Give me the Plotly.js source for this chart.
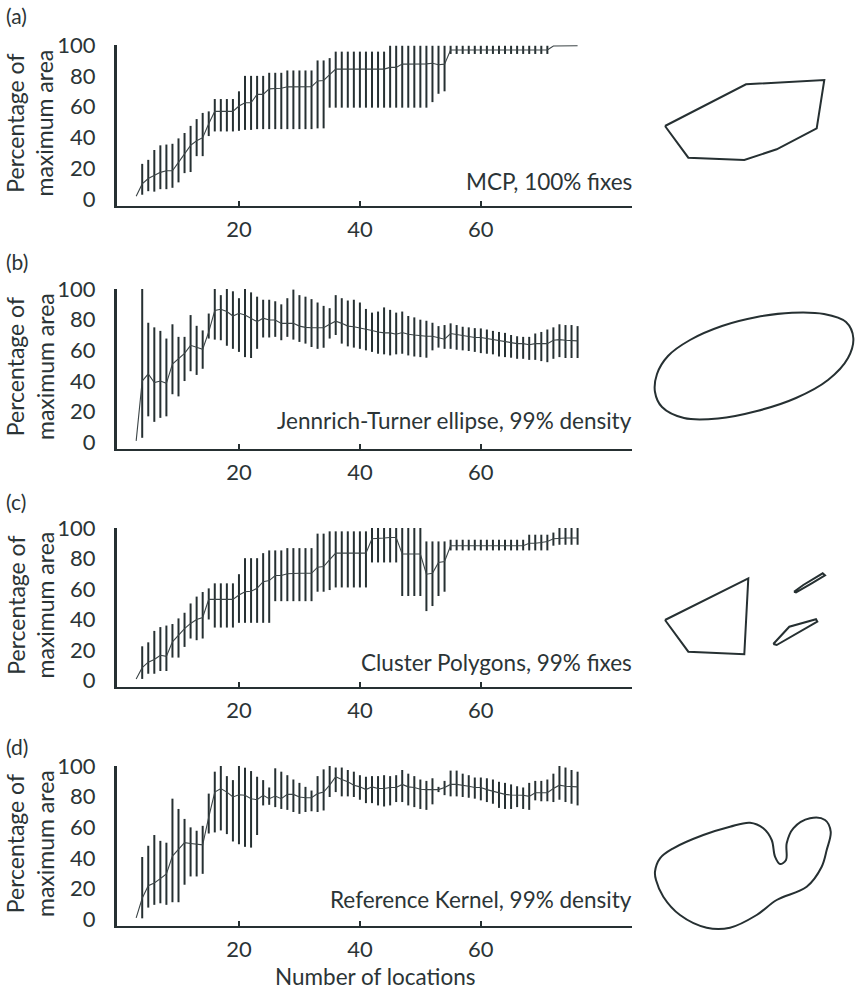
<!DOCTYPE html>
<html>
<head>
<meta charset="utf-8">
<script src="https://cdn.plot.ly/plotly-3.0.1.min.js"></script>
<style>html,body{margin:0;padding:0;background:#fff}#chart{width:855px;height:990px}</style>
</head>
<body>
<div id="chart"></div>
<script>
// Number of locations
var locations = [3,4,5,6,7,8,9,10,11,12,13,14,15,16,17,18,19,20,21,22,23,24,25,26,27,28,29,30,31,32,33,34,35,36,37,38,39,40,
  41,42,43,44,45,46,47,48,49,50,51,52,53,54,55,56,57,58,59,60,61,62,63,64,65,66,67,68,69,70,71,72,73,74,75,76];

// (a) MCP, 100% fixes
var aMean = [2,10,13.5,15.6,17.5,18.5,18.5,24,29.5,35,
  38,40,49,57,57,57,57,60.5,62.6,62.6,
  68,68,71.6,71.8,72,72.9,72.9,72.9,72.9,73,
  76.7,77,80.8,84.4,84.4,84.4,84.4,84.4,84.4,84.4,
  84.4,84.4,85.5,85.5,87.6,87.6,87.6,87.6,87.8,88.2,
  87.2,87.6,96.8,96.8,96.8,96.8,96.8,96.8,96.8,96.8,
  96.8,96.8,96.8,96.8,96.8,96.8,96.8,96.8,96.8,99.4,
  99.5,99.5,99.5,99.5];
var aMax = [null,23,25.6,32,35,35.5,36,39.5,43,47.6,
  52,56,57,65,65,65,65,70,80,80,
  80,80,82,82,82,83.5,83.5,83.5,83.5,83.5,
  90,90,91.5,95.7,95.7,95.7,95.7,95.7,95.7,95.7,
  95.7,95.7,99.5,99.5,99.5,99.5,99.5,99.5,99.5,99.5,
  99.5,99.5,99.5,99.5,99.5,99.5,99.5,99.5,99.5,99.5,
  99.5,99.5,99.5,99.5,99.5,99.5,99.5,99.5,99.5,null,
  null,null,null,null];
var aMin = [null,3,5.3,5,6.6,6.6,7.5,11,17,17.7,
  28,28,41,44,44,44,44,44.4,45,45,
  45.5,45.5,45.5,45.5,45.5,45.5,45.5,45.5,45.5,45.5,
  46,46,59.4,59.4,59.4,59.4,59.4,59.4,59.4,59.4,
  59.4,59.4,59.4,59.4,59.4,59.4,59.4,59.4,59.4,63,
  68.4,70,94.2,94.2,94.2,94.2,94.2,94.2,94.2,94.2,
  94.2,94.2,94.2,94.2,94.2,94.2,94.2,94.2,94.2,null,
  null,null,null,null];

// (b) Jennrich-Turner ellipse, 99% density
var bMean = [1,40,44.6,39,40,38.5,51,54.5,58,63.3,
  61.8,60.7,72,86,86.8,85.3,82.4,84.2,83,81,
  78.7,81,79.8,79.8,77.6,77.6,77.6,75.8,75,74.7,
  74.7,74.7,77,79,77.6,75.8,75.4,74.7,73.8,73,
  72,71.4,71.4,70.5,71.6,70.5,70,69.5,69.2,69.2,
  68,67.3,71,70.3,70,69.2,68.4,68.4,67.7,67,
  66.4,65.5,64.8,64.4,64.4,63.7,64.4,64.4,64.4,66.6,
  67,66.6,66.2,66.2];
var bMax = [null,100,78,75,72.7,67.7,77,68.8,68.8,83,
  76,73,84,100,96,100,98.5,94,100,97.8,
  95,93,93,92,90,94,99.6,96,95,93.4,
  91.2,89,87.5,96,94,92.5,93,91.2,87,84.6,
  85.3,88,86.4,84.6,85.3,82.4,81.5,80,79.3,78,
  75.8,76.5,77.6,76.5,75.4,75,74.5,74.3,73.6,72.7,
  72,71.4,70,69.2,68.8,68.8,71,72,73.6,75,
  77,76.5,76.5,75.8];
var bMin = [null,3,17,13.4,16,17,31.4,30,40,46.4,
  44,48,67.7,67,66.6,63,61,59,55.6,55,
  61,68.4,68.4,68.8,66.6,68.8,67,65.5,64.4,62.2,
  61,61.7,67.7,70,64.4,62.6,61.8,61,60,59,
  57.8,57.4,56.7,57.4,57.8,56.7,56,55.6,55.2,60,
  61.8,61,61,60.4,60,59.6,59,58.2,57.8,57.4,
  56,55.6,55.2,54.5,54.5,53.8,53.8,53,52.3,54.5,
  55.6,55,55,55];

// (c) Cluster Polygons, 99% fixes
var cMean = [1,8.4,12,13.8,16.5,15.8,25.3,29.7,34,37.4,
  40,41.3,53.2,53.2,53.2,53.2,53.2,56,58.2,58.5,
  60.4,64.8,65.5,68.8,68.8,70,70.3,70.3,70.3,70.3,
  74.3,74.7,79.3,83.5,83.5,83.5,83.5,83.5,83.5,93,
  93,93.4,93.8,93.8,82.9,82.9,82.9,82.9,69.7,70.3,
  77.4,78,88.4,88.4,88.4,88.4,88.4,88.4,88.4,88.4,
  88.4,88.4,88.4,88.4,88.4,90,90,90.5,91.2,93,
  93.4,93.4,93.4,93.4];
var cMax = [null,22.4,25,32.5,35,36,37,40.7,44.4,50.5,
  55,58,60.4,63.7,63.7,63.7,63.7,69.7,80.2,80.2,
  80.2,83.5,85.3,85.3,85.3,86.8,86.8,86.8,86.8,86.8,
  96.3,96.3,97.8,97.8,97.8,97.8,97.8,97.8,97.8,100,
  100,100,100,100,100,100,100,100,91.2,91.2,
  91.2,91.2,92.3,92.3,92.3,92.3,92.3,92.3,92.3,92.3,
  92.3,92.3,92.3,92.3,92.3,95.6,95.6,95.6,95.6,97,
  100,100,100,100];
var cMin = [null,1,4.4,4.4,6.2,6.2,15,15,22,27.5,
  26.4,27.5,40,34.7,34.7,34.7,34.7,37.8,37.8,37.8,
  37.8,37.8,37.8,52,52,52,52,52,52,52,
  58.2,58.2,59.3,61,61,61,61,61,61,77.4,
  77.4,77.4,77.4,77.4,55.4,55.4,55.4,55.4,45.5,48.8,
  55.4,58.2,85.3,85.3,85.3,85.3,85.3,85.3,85.3,85.3,
  85.3,85.3,85.3,85.3,85.3,85.3,85.3,85.3,85.3,88.4,
  89,89,89,89];

// (d) Reference Kernel, 99% density
var dMean = [1,13.8,22,23.7,26.6,29.7,41.3,45.7,50,49.5,
  49,48.6,66.6,83,85.3,83,79.8,81.3,80.9,78.7,
  78,80.9,78.7,80.4,78.7,81.5,81.5,79.8,79.3,79.3,
  82,83,87.5,93,91.2,89.7,87.5,86.4,84.6,86.4,
  85.3,85.3,86,86,88,86.4,86,84.8,84.6,84.6,
  84.6,86,88,88,87.5,86.8,86,86,84.6,83.7,
  82.4,81.5,81.1,80.9,80.9,80.2,82.6,82.6,82.6,85.3,
  87.5,86.8,86.4,86.4];
var dMax = [null,40.7,48,55,51.2,50,78.7,72,65.5,60,
  57.8,61,82,96.3,100,93.4,90.8,100,98.9,96.7,
  93,90.8,86,98.5,96.3,94,91.2,89,86.4,84,
  93.4,97.8,100,99,99,97.4,96.3,94,93,93.4,
  93.4,94,93.4,94,97.4,95,93.4,91.2,90.3,92,
  86.4,90.3,97,97,95,94,92.5,92.5,92,91.2,
  89.7,89,88,86.8,86,89,90.3,90.3,91.2,95,
  100,99,97.4,96.3];
var dMin = [null,0.7,7.7,9.5,10.5,9.5,11.2,11.2,22.6,28,
  28,29.7,56,56.7,58,55.6,50.8,49,47.3,46.8,
  55,74.3,74.7,73.2,72,71.4,70,68.8,70,70.5,
  70,71,79.8,83,80.2,80.2,79.8,78,75.8,75.8,
  74.3,73.6,74.3,76.5,76.5,74.3,73.2,72,71.4,75,
  83,81,80.2,80.2,79.8,79.3,78.7,77.6,76.5,75.4,
  72.7,72,72,73.2,72,71.4,77.6,77,77,76.5,
  78,76.5,75.4,74.3];

var panelLetters = ['(a)','(b)','(c)','(d)'];
var panelNames = ['MCP, 100% fixes','Jennrich-Turner ellipse, 99% density','Cluster Polygons, 99% fixes','Reference Kernel, 99% density'];
var yTickVals = [0,20,40,60,80,100];
var xTickVals = [20,40,60];

// Outline sketches on the right (page pixel coordinates)
var mcpX = [665,746,824.3,816.7,776.7,744.3,688.3,665];
var mcpY = [126,84.3,80,128.3,149.3,160,157.7,126];
var ellX = [655,657,668,690,722,757,792,824,846,853.3,848,828,796,757,718,684,662,655];
var ellY = [392,374,356,340,326,317,312.7,314,322,338,358,380,398,411,418.5,418,407,392];
var clusterX = [665,748.3,744.3,688.3,665,null,794,803.3,822.7,825,811.7,796,794,null,773.3,789.3,816,817.3,776.7,773.3];
var clusterY = [620,578.3,654.3,651.7,620,null,591.7,585,573.3,575.3,583.3,592.3,591.7,null,644,626.7,619.3,621.7,645,644];
var kernX = [655,660,673.3,703.3,730,750,763.3,771.7,775,780,786,786.7,793.3,810,825,830.7,826.7,821.7,806.7,776.7,756.7,730,706.7,680,663.3,656,655];
var kernY = [871.7,858.3,848.3,835,826.7,822.7,828.3,840,856.7,864,860,843.3,828.3,818.3,820,831.7,850,866.7,886.7,900,915,927.7,927.7,915,896.7,880,871.7];

var W = 855, H = 990;
var FONT = 'Lato, "Open Sans", sans-serif';
var TXT = '#2b3436';
var INK = '#263032';
var tops = [45, 289, 528, 766];
var bottoms = [206, 449, 687, 926];
var labelY = [16, 262, 501, 746];
var nameY = [182, 421, 662, 899];

var series = [[aMean,aMax,aMin],[bMean,bMax,bMin],[cMean,cMax,cMin],[dMean,dMax,dMin]];
var data = [];
var layout = {
  width: W, height: H, margin: {l:0,r:0,t:0,b:0},
  paper_bgcolor: '#fff', plot_bgcolor: 'rgba(0,0,0,0)',
  showlegend: false, font: {family: FONT, color: TXT, size: 20},
  annotations: []
};

series.forEach(function(s, i){
  var mean = s[0], mx = s[1], mn = s[2];
  var up = mean.map(function(v,k){ return mx[k]===null ? 0 : mx[k]-v; });
  var dn = mean.map(function(v,k){ return mn[k]===null ? 0 : v-mn[k]; });
  var sfx = i===0 ? '' : String(i+1);
  data.push({
    type:'scatter', mode:'lines', x: locations, y: mean,
    xaxis:'x'+sfx, yaxis:'y'+sfx,
    line:{color:'#3b4446', width:1.1},
    error_y:{type:'data', symmetric:false, array:up, arrayminus:dn, color:INK, thickness:2, width:0},
    hoverinfo:'skip'
  });
  layout['xaxis'+sfx] = {
    domain:[117/W, 632/W], range:[-0.17, 85], anchor:'y'+sfx,
    showgrid:false, zeroline:false, showline:true, linecolor:INK, linewidth:2,
    ticks:'inside', ticklen:5, tickwidth:2, tickcolor:INK, tickvals:xTickVals,
    ticklabelstandoff: 3,
    tickfont:{family:FONT, size:22, color:TXT}, fixedrange:true
  };
  layout['yaxis'+sfx] = {
    domain:[1-bottoms[i]/H, 1-tops[i]/H], range:[-4.3, 100], anchor:'x'+sfx,
    showgrid:false, zeroline:false, showline:true, linecolor:INK, linewidth:3,
    ticks:'', tickvals:yTickVals, ticklabelstandoff: 14,
    tickfont:{family:FONT, size:22, color:TXT}, fixedrange:true
  };
  layout.annotations.push({
    xref:'paper', yref:'paper', x:4/W, y:1-labelY[i]/H, xanchor:'left', yanchor:'middle',
    text:panelLetters[i], showarrow:false, font:{family:FONT, size:21, color:TXT}
  });
  layout.annotations.push({
    xref:'paper', yref:'paper', x:30/W, y:1-((tops[i]+bottoms[i])/2 - 2)/H, xanchor:'center', yanchor:'middle',
    text:'Percentage of<br>maximum area', textangle:-90, showarrow:false, font:{family:FONT, size:23, color:TXT}
  });
  layout.annotations.push({
    xref:'paper', yref:'paper', x:634/W, y:1-nameY[i]/H, xanchor:'right', yanchor:'middle',
    text:panelNames[i], showarrow:false, font:{family:FONT, size:22.5, color:TXT}
  });
});

layout.annotations.push({
  xref:'paper', yref:'paper', x:375/W, y:1-976/H, xanchor:'center', yanchor:'middle',
  text:'Number of locations', showarrow:false, font:{family:FONT, size:22.5, color:TXT}
});

layout.xaxis5 = {domain:[0,1], range:[0,W], visible:false, anchor:'y5', fixedrange:true};
layout.yaxis5 = {domain:[0,1], range:[H,0], visible:false, anchor:'x5', fixedrange:true};
[[mcpX,mcpY,'linear'],[ellX,ellY,'spline'],[clusterX,clusterY,'linear'],[kernX,kernY,'spline']].forEach(function(o){
  data.push({type:'scatter', mode:'lines', x:o[0], y:o[1], xaxis:'x5', yaxis:'y5',
    line:{color:INK, width:2, shape:o[2], smoothing:1}, connectgaps:false, hoverinfo:'skip', cliponaxis:false});
});

Plotly.newPlot('chart', data, layout, {staticPlot:true});
</script>
</body>
</html>
